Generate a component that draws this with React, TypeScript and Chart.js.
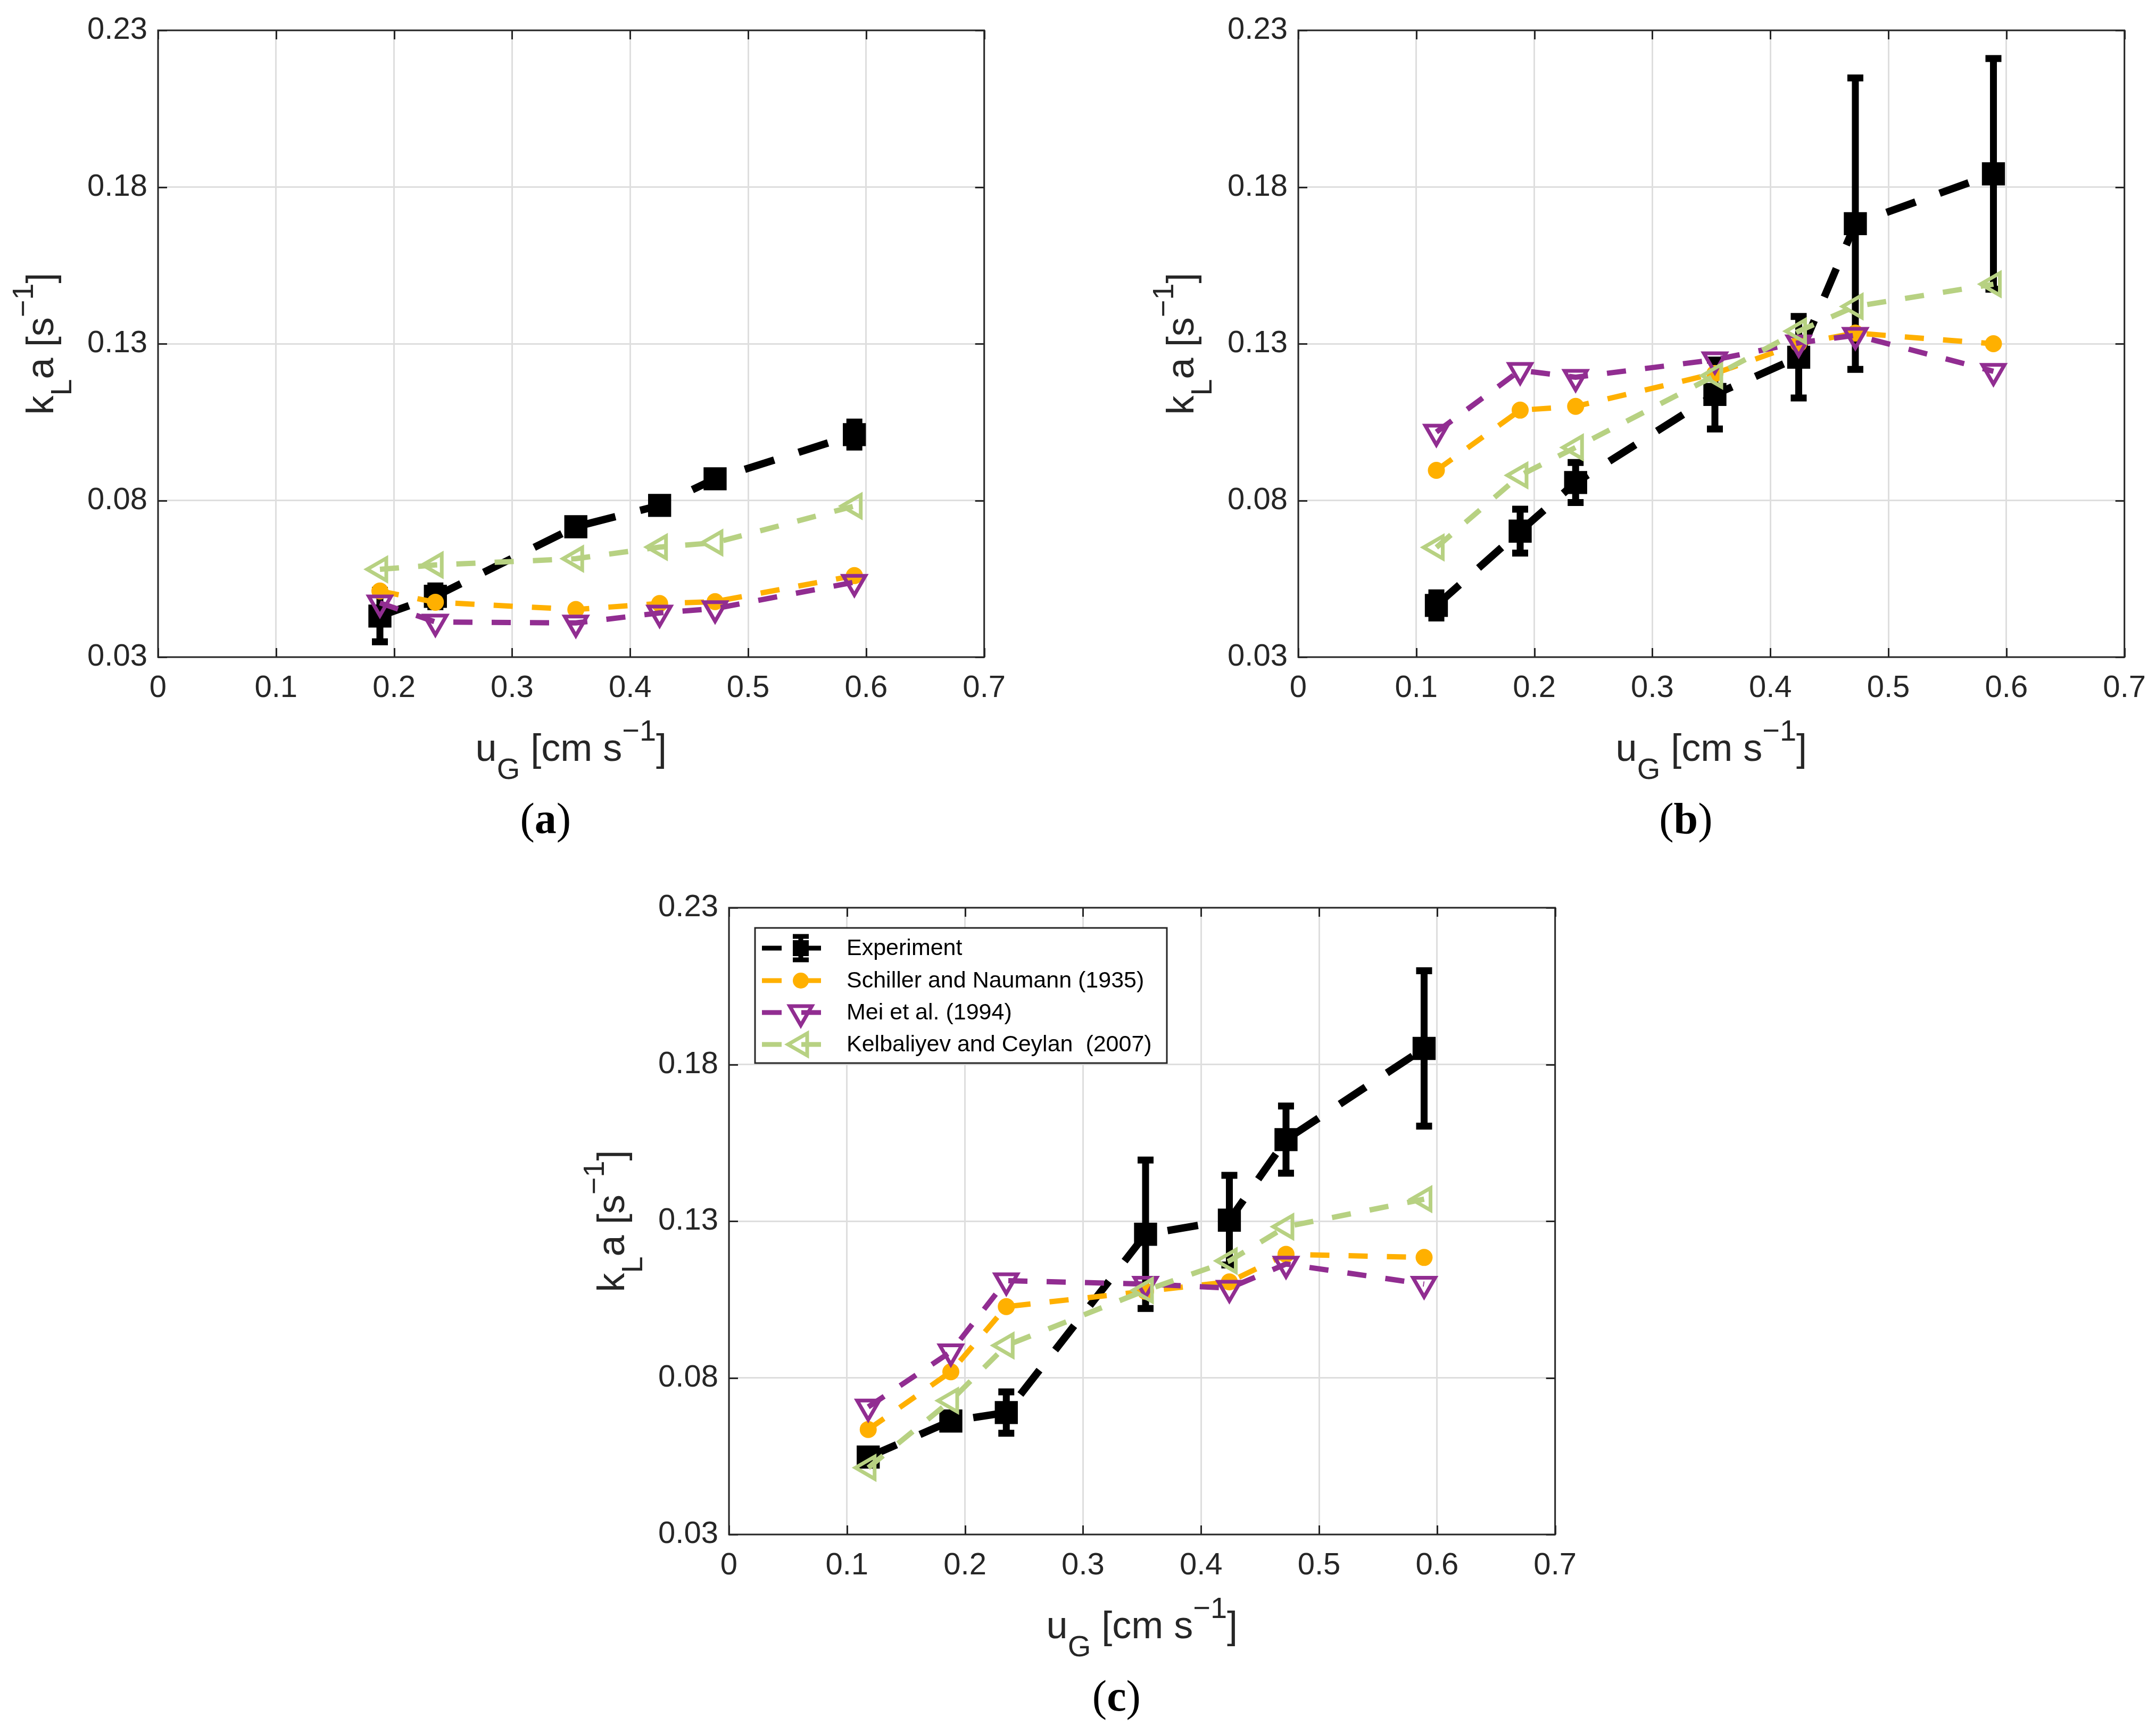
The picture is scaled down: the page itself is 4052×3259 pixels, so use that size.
import React, { useEffect, useRef } from 'react';
import { Chart, registerables } from 'chart.js';

Chart.register(...registerables);

const SANS = "'Liberation Sans', Arial, Helvetica, sans-serif";
const SERIF = "'Liberation Serif', 'Times New Roman', serif";

// ---------- axes ----------
const X_TICKS = [0, 0.1, 0.2, 0.3, 0.4, 0.5, 0.6, 0.7];
const X_TICK_LABELS = ['0', '0.1', '0.2', '0.3', '0.4', '0.5', '0.6', '0.7'];
const Y_TICKS = [0.03, 0.08, 0.13, 0.18, 0.23];
const Y_TICK_LABELS = ['0.03', '0.08', '0.13', '0.18', '0.23'];

const SERIES_LABELS = [
  'Experiment',
  'Schiller and Naumann (1935)',
  'Mei et al. (1994)',
  'Kelbaliyev and Ceylan  (2007)',
];

// ---------- panel (a) ----------
const ugA = [0.188, 0.235, 0.354, 0.425, 0.472, 0.59];
const expA = [0.0431, 0.0494, 0.0716, 0.0784, 0.0869, 0.101];
const expErrA = [0.0082, 0.0033, 0.0015, 0.0015, 0.0015, 0.004];
const schillerA = [0.0511, 0.0475, 0.0452, 0.0471, 0.0477, 0.056];
const meiA = [0.0473, 0.0412, 0.0409, 0.0441, 0.0455, 0.0539];
const kelbA = [0.058, 0.0594, 0.0614, 0.0651, 0.0665, 0.0782];

// ---------- panel (b) ----------
const ugB = [0.117, 0.188, 0.235, 0.353, 0.424, 0.472, 0.589];
const expB = [0.0465, 0.0702, 0.0857, 0.1138, 0.1257, 0.1683, 0.1842];
const expErrB = [0.004, 0.007, 0.0064, 0.011, 0.013, 0.0465, 0.0368];
const schillerB = [0.0896, 0.1088, 0.11, 0.1205, 0.13, 0.1334, 0.13];
const meiB = [0.1018, 0.1215, 0.1193, 0.1249, 0.1303, 0.1327, 0.1212];
const kelbB = [0.065, 0.088, 0.0969, 0.1198, 0.134, 0.1419, 0.149];

// ---------- panel (c) ----------
const ugC = [0.118, 0.188, 0.235, 0.353, 0.424, 0.472, 0.589];
const expC = [0.0547, 0.0662, 0.0689, 0.1258, 0.1303, 0.156, 0.1851];
const expErrC = [0.002, 0.0015, 0.0066, 0.0237, 0.0143, 0.0107, 0.0248];
const schillerC = [0.0635, 0.0819, 0.1027, 0.1076, 0.1106, 0.1194, 0.1184];
const meiC = [0.0707, 0.0883, 0.111, 0.1099, 0.1086, 0.1163, 0.1099];
const kelbC = [0.0513, 0.0727, 0.0903, 0.1079, 0.1173, 0.1282, 0.137];

// ---------- layout ----------
const LEFT_SPACE = 297;
const TOP_SPACE = 57;
const RIGHT_SPACE = 60;
const BOTTOM_SPACE = 360;
const AXIS_W = 1557;
const AXIS_H = 1178;
const CANVAS_W = LEFT_SPACE + AXIS_W + RIGHT_SPACE;
const CANVAS_H = TOP_SPACE + AXIS_H + BOTTOM_SPACE;

const COLORS = ['#000000', '#FFB000', '#912D91', '#B7D182'];
const AXIS_COLOR = '#262626';

type PanelSpec = {
  tag: string;
  ug: number[];
  exp: number[];
  err: number[];
  sch: number[];
  mei: number[];
  kel: number[];
  axisLeft: number;
  axisTop: number;
  legend: boolean;
};

const PANELS: PanelSpec[] = [
  { tag: 'a', ug: ugA, exp: expA, err: expErrA, sch: schillerA, mei: meiA, kel: kelbA, axisLeft: 297, axisTop: 57, legend: false },
  { tag: 'b', ug: ugB, exp: expB, err: expErrB, sch: schillerB, mei: meiB, kel: kelbB, axisLeft: 2440, axisTop: 57, legend: false },
  { tag: 'c', ug: ugC, exp: expC, err: expErrC, sch: schillerC, mei: meiC, kel: kelbC, axisLeft: 1370, axisTop: 1706, legend: true },
];

type Part = { t: string; k: 'n' | 'sub' | 'sup' | 'b' };

function drawRich(
  ctx: CanvasRenderingContext2D,
  parts: Part[],
  cx: number,
  baseline: number,
  mainSize: number,
  smallSize: number,
  family: string,
  subShift: number,
  supShift: number
) {
  const fontFor = (p: Part) =>
    p.k === 'b' ? `bold ${mainSize}px ${family}` : `${p.k === 'n' ? mainSize : smallSize}px ${family}`;
  let w = 0;
  parts.forEach((p) => {
    ctx.font = fontFor(p);
    w += ctx.measureText(p.t).width;
  });
  let x = cx - w / 2;
  ctx.textAlign = 'left';
  ctx.textBaseline = 'alphabetic';
  parts.forEach((p) => {
    ctx.font = fontFor(p);
    const dy = p.k === 'sub' ? subShift : p.k === 'sup' ? supShift : 0;
    ctx.fillText(p.t, x, baseline + dy);
    x += ctx.measureText(p.t).width;
  });
}

function triPath(ctx: CanvasRenderingContext2D, x: number, y: number, r: number, rotDeg: number) {
  let rad = (rotDeg * Math.PI) / 180;
  ctx.beginPath();
  ctx.moveTo(x + Math.sin(rad) * r, y - Math.cos(rad) * r);
  rad += (2 * Math.PI) / 3;
  ctx.lineTo(x + Math.sin(rad) * r, y - Math.cos(rad) * r);
  rad += (2 * Math.PI) / 3;
  ctx.lineTo(x + Math.sin(rad) * r, y - Math.cos(rad) * r);
  ctx.closePath();
}

function Panel({ spec }: { spec: PanelSpec }) {
  const ref = useRef<HTMLCanvasElement | null>(null);

  useEffect(() => {
    const canvas = ref.current;
    if (!canvas) return;
    const pts = (ys: number[]) => spec.ug.map((x, i) => ({ x, y: ys[i] }));

    const overlay = {
      id: 'overlay_' + spec.tag,
      beforeDatasetsDraw(chart: any) {
        const ctx: CanvasRenderingContext2D = chart.ctx;
        const ca = chart.chartArea;
        const xs = chart.scales.x;
        const ys = chart.scales.y;
        ctx.save();
        ctx.strokeStyle = AXIS_COLOR;
        ctx.lineWidth = 3;
        ctx.setLineDash([]);
        // inward ticks on all four sides
        const tl = 17;
        ctx.beginPath();
        X_TICKS.forEach((v) => {
          const px = Math.round(xs.getPixelForValue(v)) + 0.5;
          ctx.moveTo(px, ca.bottom);
          ctx.lineTo(px, ca.bottom - tl);
          ctx.moveTo(px, ca.top);
          ctx.lineTo(px, ca.top + tl);
        });
        Y_TICKS.forEach((v) => {
          const py = Math.round(ys.getPixelForValue(v)) + 0.5;
          ctx.moveTo(ca.left, py);
          ctx.lineTo(ca.left + tl, py);
          ctx.moveTo(ca.right, py);
          ctx.lineTo(ca.right - tl, py);
        });
        ctx.stroke();
        ctx.strokeRect(ca.left, ca.top, ca.right - ca.left, ca.bottom - ca.top);
        ctx.restore();
      },
      afterDatasetDraw(chart: any, args: any) {
        if (args.index !== 0) return;
        const ctx: CanvasRenderingContext2D = chart.ctx;
        const xs = chart.scales.x;
        const ys = chart.scales.y;
        ctx.save();
        ctx.strokeStyle = '#000';
        ctx.lineWidth = 13;
        ctx.setLineDash([]);
        ctx.lineCap = 'butt';
        spec.ug.forEach((u, i) => {
          const px = xs.getPixelForValue(u);
          const top = ys.getPixelForValue(spec.exp[i] + spec.err[i]);
          const bot = ys.getPixelForValue(spec.exp[i] - spec.err[i]);
          ctx.beginPath();
          ctx.moveTo(px, top);
          ctx.lineTo(px, bot);
          ctx.moveTo(px - 15, top);
          ctx.lineTo(px + 15, top);
          ctx.moveTo(px - 15, bot);
          ctx.lineTo(px + 15, bot);
          ctx.stroke();
        });
        ctx.restore();
      },
      afterDraw(chart: any) {
        const ctx: CanvasRenderingContext2D = chart.ctx;
        const ca = chart.chartArea;
        const cx = (ca.left + ca.right) / 2;
        const cy = (ca.top + ca.bottom) / 2;
        ctx.save();
        ctx.fillStyle = AXIS_COLOR;
        // x axis title
        drawRich(
          ctx,
          [
            { t: 'u', k: 'n' },
            { t: 'G', k: 'sub' },
            { t: ' [cm s', k: 'n' },
            { t: '\u22121', k: 'sup' },
            { t: ']', k: 'n' },
          ],
          cx,
          ca.bottom + 195,
          72,
          56,
          SANS,
          34,
          -38
        );
        // y axis title (rotated)
        ctx.save();
        ctx.translate(ca.left - 197, cy);
        ctx.rotate(-Math.PI / 2);
        drawRich(
          ctx,
          [
            { t: 'k', k: 'n' },
            { t: 'L', k: 'sub' },
            { t: 'a [s', k: 'n' },
            { t: '\u22121', k: 'sup' },
            { t: ']', k: 'n' },
          ],
          0,
          0,
          72,
          56,
          SANS,
          34,
          -38
        );
        ctx.restore();
        // panel tag
        ctx.fillStyle = '#000';
        drawRich(
          ctx,
          [
            { t: '(', k: 'n' },
            { t: spec.tag, k: 'b' },
            { t: ')', k: 'n' },
          ],
          cx - 48,
          ca.bottom + 331,
          82,
          82,
          SERIF,
          0,
          0
        );

        if (spec.legend) {
          const bx = ca.left + 49;
          const by = ca.top + 38;
          ctx.fillStyle = '#ffffff';
          ctx.fillRect(bx, by, 774, 254);
          ctx.strokeStyle = AXIS_COLOR;
          ctx.lineWidth = 3;
          ctx.setLineDash([]);
          ctx.strokeRect(bx, by, 774, 254);
          const rows = [76, 137, 197, 257];
          rows.forEach((dy, i) => {
            const y = ca.top + dy;
            const color = COLORS[i];
            const mx = ca.left + 135;
            ctx.save();
            ctx.strokeStyle = color;
            ctx.lineWidth = 9;
            ctx.setLineDash([37, 37]);
            ctx.beginPath();
            ctx.moveTo(ca.left + 62, y);
            ctx.lineTo(ca.left + 208, y);
            ctx.stroke();
            ctx.setLineDash([]);
            // marker
            if (i === 0) {
              ctx.lineWidth = 9;
              ctx.beginPath();
              ctx.moveTo(mx, y - 22);
              ctx.lineTo(mx, y + 22);
              ctx.moveTo(mx - 15, y - 22);
              ctx.lineTo(mx + 15, y - 22);
              ctx.moveTo(mx - 15, y + 22);
              ctx.lineTo(mx + 15, y + 22);
              ctx.stroke();
              ctx.fillStyle = color;
              ctx.fillRect(mx - 15, y - 15, 30, 30);
            } else if (i === 1) {
              ctx.fillStyle = color;
              ctx.beginPath();
              ctx.arc(mx, y, 15, 0, Math.PI * 2);
              ctx.fill();
            } else {
              ctx.lineWidth = 7;
              triPath(ctx, mx, y, 24, i === 2 ? 180 : 270);
              ctx.stroke();
            }
            ctx.restore();
            ctx.fillStyle = '#000';
            ctx.font = `43px ${SANS}`;
            ctx.textAlign = 'left';
            ctx.textBaseline = 'middle';
            ctx.fillText(SERIES_LABELS[i], ca.left + 221, y + 1);
          });
        }
        ctx.restore();
      },
    };

    const chart = new Chart(canvas, {
      type: 'line',
      data: {
        datasets: [
          {
            label: SERIES_LABELS[0],
            data: pts(spec.exp),
            borderColor: COLORS[0],
            borderWidth: 14,
            borderDash: [58, 48],
            pointStyle: 'rect',
            pointRadius: 25,
            pointBorderWidth: 8,
            pointBackgroundColor: COLORS[0],
            pointBorderColor: COLORS[0],
            fill: false,
            tension: 0,
            order: 4,
          },
          {
            label: SERIES_LABELS[1],
            data: pts(spec.sch),
            borderColor: COLORS[1],
            borderWidth: 10,
            borderDash: [36, 36],
            pointStyle: 'circle',
            pointRadius: 13,
            pointBorderWidth: 6,
            pointBackgroundColor: COLORS[1],
            pointBorderColor: COLORS[1],
            fill: false,
            tension: 0,
            order: 3,
          },
          {
            label: SERIES_LABELS[2],
            data: pts(spec.mei),
            borderColor: COLORS[2],
            borderWidth: 10,
            borderDash: [36, 36],
            pointStyle: 'triangle',
            pointRotation: 180,
            pointRadius: 24,
            pointBorderWidth: 7,
            pointBackgroundColor: 'rgba(0,0,0,0)',
            pointBorderColor: COLORS[2],
            fill: false,
            tension: 0,
            order: 2,
          },
          {
            label: SERIES_LABELS[3],
            data: pts(spec.kel),
            borderColor: COLORS[3],
            borderWidth: 10,
            borderDash: [36, 36],
            pointStyle: 'triangle',
            pointRotation: 270,
            pointRadius: 24,
            pointBorderWidth: 7,
            pointBackgroundColor: 'rgba(0,0,0,0)',
            pointBorderColor: COLORS[3],
            fill: false,
            tension: 0,
            order: 1,
          },
        ] as any,
      },
      options: {
        animation: false,
        responsive: false,
        devicePixelRatio: 1,
        events: [],
        layout: { padding: { top: TOP_SPACE, right: RIGHT_SPACE, left: 0, bottom: 0 } },
        plugins: {
          legend: { display: false },
          tooltip: { enabled: false },
          title: { display: false },
        },
        scales: {
          x: {
            type: 'linear',
            min: 0,
            max: 0.7,
            afterBuildTicks: (s: any) => {
              s.ticks = X_TICKS.map((v) => ({ value: v }));
            },
            afterFit: (s: any) => {
              s.height = BOTTOM_SPACE;
            },
            ticks: {
              callback: (_v: any, i: number) => X_TICK_LABELS[i],
              font: { family: SANS, size: 58 },
              color: AXIS_COLOR,
              padding: 24,
              maxRotation: 0,
              autoSkip: false,
            },
            grid: { color: '#dedede', lineWidth: 3, drawTicks: false },
            border: { display: false },
          },
          y: {
            type: 'linear',
            min: 0.03,
            max: 0.23,
            afterBuildTicks: (s: any) => {
              s.ticks = Y_TICKS.map((v) => ({ value: v }));
            },
            afterFit: (s: any) => {
              s.width = LEFT_SPACE;
            },
            ticks: {
              callback: (_v: any, i: number) => Y_TICK_LABELS[i],
              font: { family: SANS, size: 58 },
              color: AXIS_COLOR,
              padding: 20,
              autoSkip: false,
            },
            grid: { color: '#dedede', lineWidth: 3, drawTicks: false },
            border: { display: false },
          },
        },
      } as any,
      plugins: [overlay],
    });

    return () => {
      chart.destroy();
    };
  }, [spec]);

  return (
    <canvas
      ref={ref}
      width={CANVAS_W}
      height={CANVAS_H}
      style={{
        position: 'absolute',
        left: spec.axisLeft - LEFT_SPACE,
        top: spec.axisTop - TOP_SPACE,
        width: CANVAS_W,
        height: CANVAS_H,
      }}
    />
  );
}

export default function App() {
  return (
    <div
      style={{
        position: 'absolute',
        left: 0,
        top: 0,
        width: 4052,
        height: 3259,
        overflow: 'hidden',
        background: '#ffffff',
      }}
    >
      {PANELS.map((p) => (
        <Panel key={p.tag} spec={p} />
      ))}
    </div>
  );
}
